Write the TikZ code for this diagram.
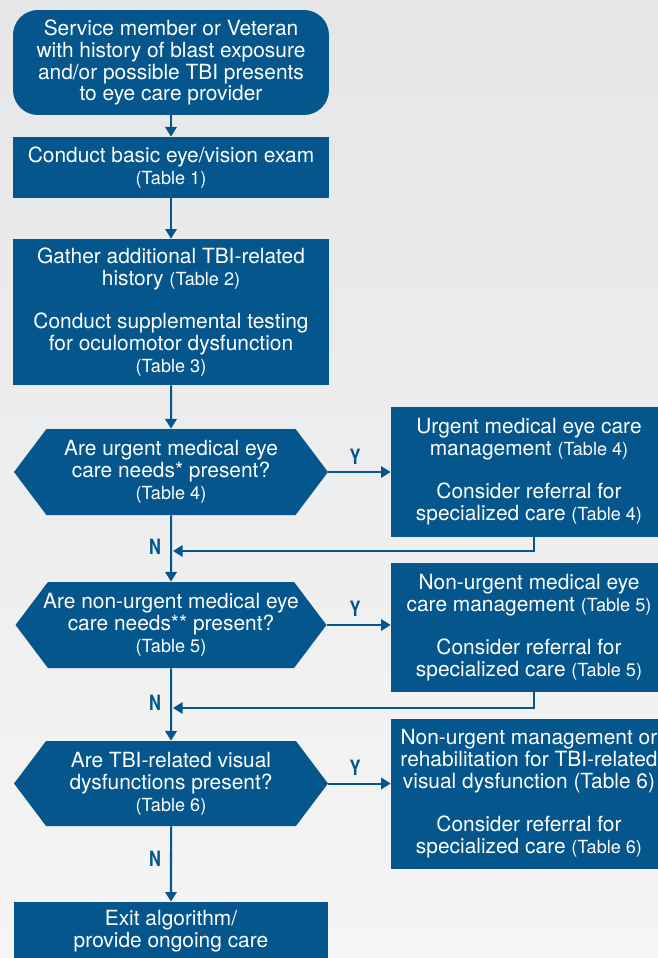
\documentclass[tikz,border=0pt]{standalone}
\usepackage{fontspec}
\setmainfont{TeX Gyre Heros}
\usepackage{xcolor}
\usetikzlibrary{arrows.meta,shapes.symbols}

\definecolor{vablue}{RGB}{4,86,140}
\definecolor{bgtop}{RGB}{229,230,232}
\definecolor{bgbottom}{RGB}{245,245,245}

\newcommand{\tabref}[1]{{\fontsize{10.3}{12.5}\selectfont(Table #1)}}

\tikzset{
  box/.style={fill=vablue, text=white, align=center, inner sep=0pt,
    font=\fontsize{11.9}{12.5}\selectfont},
  decision/.style={box, shape=signal, signal to=west and east,
    signal pointer angle=106, inner xsep=-0.6cm},
  flow/.style={vablue, line width=1.15pt, -{Triangle[length=5.5pt,width=6.5pt]}},
  yn/.style={text=vablue, font=\bfseries\fontsize{12}{14}\selectfont,
    xscale=0.78, transform shape},
}

\begin{document}
\begin{tikzpicture}[x=0.02cm, y=-0.02cm]
    \useasboundingbox (0,0) rectangle (658,958);
    \clip (0,0) rectangle (658,958);
    \shade[top color=bgtop, bottom color=bgbottom] (0,0) rectangle (658,958);

    % main column
    \node[box, rounded corners=0.5cm, minimum width=6.32cm, minimum height=2.1cm] (start) at (171,62.5)
        {Service member or Veteran\\with history of blast exposure\\and/or possible TBI presents\\to eye care provider};
    \node[box, minimum width=6.32cm, minimum height=1.22cm] (exam) at (171,167.5)
        {Conduct basic eye/vision exam\\\tabref{1}};
    \node[box, minimum width=6.32cm, minimum height=2.92cm] (history) at (171,312)
        {Gather additional TBI-related\\history \tabref{2}\\[12pt]Conduct supplemental testing\\for oculomotor dysfunction\\\tabref{3}};
    \node[decision, minimum width=6.28cm, minimum height=1.72cm] (urgent) at (171,472)
        {Are urgent medical eye\\care needs* present?\\\tabref{4}};
    \node[decision, minimum width=6.22cm, minimum height=1.72cm] (nonurgent) at (171,625)
        {Are non-urgent medical eye\\care needs** present?\\\tabref{5}};
    \node[decision, minimum width=6.28cm, minimum height=1.7cm] (visual) at (171,783.5)
        {Are TBI-related visual\\dysfunctions present?\\\tabref{6}};
    \node[box, minimum width=6.3cm, minimum height=1.16cm] (exit) at (171,931)
        {Exit algorithm/\\provide ongoing care};

    % right column
    \node[box, minimum width=5.52cm, minimum height=2.6cm] (urgentcare) at (529,472)
        {Urgent medical eye care\\management \tabref{4}\\[12pt]Consider referral for\\specialized care \tabref{4}};
    \node[box, minimum width=5.52cm, minimum height=2.58cm] (nonurgentcare) at (529,627.5)
        {Non-urgent medical eye\\care management \tabref{5}\\[12pt]Consider referral for\\specialized care \tabref{5}};
    \node[box, minimum width=5.52cm, minimum height=3cm] (rehab) at (529,794)
        {Non-urgent management or\\rehabilitation for TBI-related\\visual dysfunction (Table 6)\\[12pt]Consider referral for\\specialized care \tabref{6}};

    % joins on the main line
    \coordinate (join1) at (173,551);
    \coordinate (join2) at (173,708);

    % connectors
    \draw[flow] (start) -- (exam);
    \draw[flow] (exam) -- (history);
    \draw[flow] (history) -- (urgent);
    \draw[flow] (urgent) -- (nonurgent);
    \draw[flow] (nonurgent) -- (visual);
    \draw[flow] (visual) -- (exit);
    \draw[flow] (urgent.east) -- (urgent.east -| urgentcare.west);
    \draw[flow] (nonurgent.east) -- (nonurgent.east -| nonurgentcare.west);
    \draw[flow] (visual.east) -- (visual.east -| rehab.west);
    \draw[flow] ([xshift=0.1cm]urgentcare.south) |- (join1);
    \draw[flow] ([xshift=0.1cm]nonurgentcare.south) |- (join2);

    % answer labels
    \node[yn] (y1) at (355,457) {Y};
    \node[yn] (y2) at (355,609) {Y};
    \node[yn] (y3) at (355,768) {Y};
    \node[yn] (n1) at (155,547) {N};
    \node[yn] (n2) at (155,703) {N};
    \node[yn] (n3) at (155,859) {N};
\end{tikzpicture}
\end{document}
